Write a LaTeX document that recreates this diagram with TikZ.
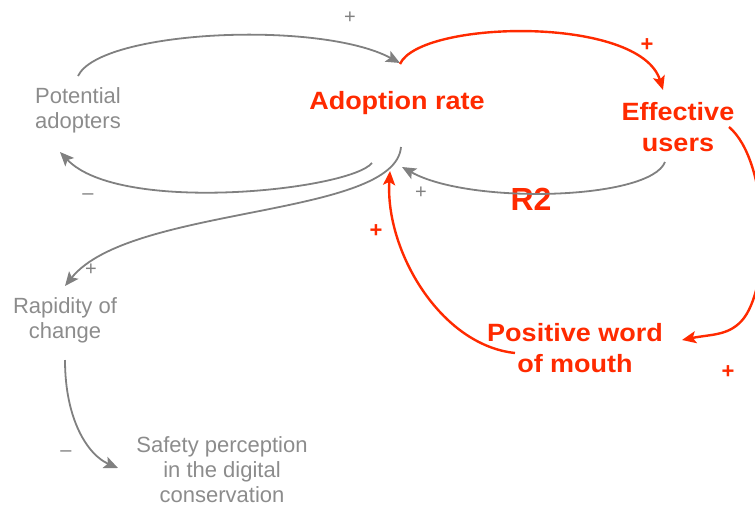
\documentclass[tikz,border=0pt]{standalone}
\usepackage{fontspec}
\setmainfont{Liberation Sans}
\newfontfamily\redfont[FakeStretch=1.08]{Liberation Sans}
\usetikzlibrary{arrows.meta}
\definecolor{gtext}{RGB}{140,140,140}
\definecolor{gline}{RGB}{128,128,128}
\definecolor{rcol}{RGB}{255,42,0}
\tikzset{
  gvar/.style={inner sep=0pt, align=center, text=gtext, font=\fontsize{22}{25}\selectfont},
  rvar/.style={inner sep=0pt, align=center, text=rcol, font=\redfont\fontsize{25}{31}\selectfont\bfseries},
  glab/.style={inner sep=0pt, text=gline, font=\fontsize{20}{20}\selectfont},
  rlab/.style={inner sep=0pt, text=rcol, font=\fontsize{22}{22}\selectfont\bfseries},
  glink/.style={draw=gline, line width=1.8pt, -{Stealth[length=14pt,width=12pt,inset=3pt]}},
  rlink/.style={draw=rcol, line width=2.4pt, -{Stealth[length=14pt,width=12pt,inset=3pt]}}
}
\begin{document}
\begin{tikzpicture}[x=1pt,y=-1pt]
\useasboundingbox (0,0) rectangle (755,507);
% variables
\node[gvar] (pa) at (78,110) {Potential\\adopters};
\node[rvar] (ar) at (397,103) {Adoption rate};
\node[rvar] (eu) at (678,127) {Effective\\users};
\node[gvar] (rc) at (65,320) {Rapidity of\\change};
\node[gvar] (sp) at (222,470) {Safety perception\\in the digital\\conservation};
\node[rvar] (pw) at (575,348) {Positive word\\of mouth};
\node[inner sep=0pt, text=rcol, font=\fontsize{32}{32}\selectfont\bfseries] (r2) at (531,199) {R2};
% connector ends
\coordinate (paTop) at (78,76);
\coordinate (arIn1) at (400,63);
\coordinate (arOut1) at (372,163);
\coordinate (paIn) at (60,152);
\coordinate (arOut2) at (401,147);
\coordinate (rcIn) at (65,286);
\coordinate (rcOut) at (65,360);
\coordinate (spIn) at (118,468);
\coordinate (euOut1) at (665,162);
\coordinate (arIn2) at (402,167);
\coordinate (arOut3) at (400,64);
\coordinate (euIn) at (663,90);
\coordinate (euOut2) at (729,127);
\coordinate (pwIn) at (682,340);
\coordinate (pwOut) at (515,353);
\coordinate (arIn3) at (390,171);
% gray links
\draw[glink] (paTop) .. controls (100,30) and (320,20) .. (arIn1);
\draw[glink] (arOut1) .. controls (350,190) and (120,215) .. (paIn);
\draw[glink] (arOut2) .. controls (395,218) and (130,205) .. (rcIn);
\draw[glink] (rcOut) .. controls (65,420) and (88,455) .. (spIn);
\draw[glink] (euOut1) .. controls (650,200) and (470,205) .. (arIn2);
% red links
\draw[rlink] (arOut3) .. controls (420,20) and (640,15) .. (euIn);
\draw[rlink] (euOut2) .. controls (768,160) and (772,280) .. (744,318) .. controls (730,336) and (712,334) .. (pwIn);
\draw[rlink] (pwOut) .. controls (440,345) and (385,250) .. (arIn3);
% polarity labels
\node[glab] (l1) at (350,18) {+};
\node[glab] (l2) at (88,197) {–};
\node[glab] (l3) at (91,270) {+};
\node[glab] (l4) at (66,454) {–};
\node[glab] (l5) at (421,193) {+};
\node[rlab] (l6) at (647,45) {+};
\node[rlab] (l7) at (728,372) {+};
\node[rlab] (l8) at (376,231) {+};
\end{tikzpicture}
\end{document}
